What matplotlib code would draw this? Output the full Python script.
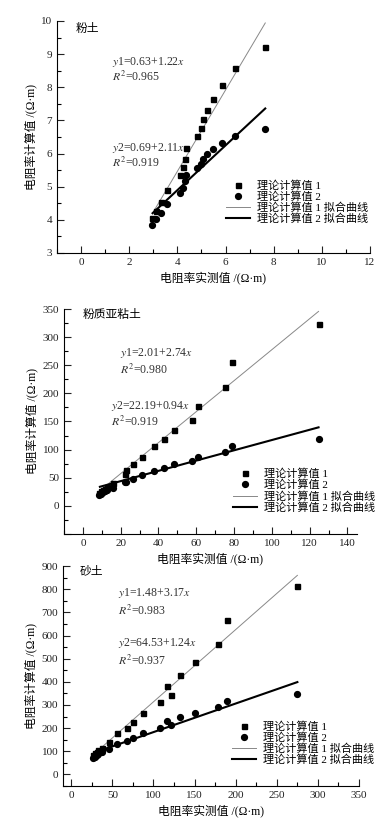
import matplotlib
matplotlib.use('Agg')
import matplotlib.pyplot as plt
from matplotlib.ticker import MultipleLocator, FuncFormatter
from matplotlib.lines import Line2D

plt.rcParams['font.family'] = ['Liberation Serif', 'Noto Sans CJK SC']
plt.rcParams['mathtext.fontset'] = 'stix'
plt.rcParams['font.size'] = 8

# ---- data ----
# 粉土
x_a = [2.93, 3.11, 3.32, 3.57, 4.11, 4.25, 4.33, 4.37, 4.81, 4.99, 5.06, 5.21, 5.49, 5.85, 6.39, 7.65]
sq_a = [4.05, 4.28, 4.55, 4.89, 5.36, 5.58, 5.84, 6.16, 6.54, 6.76, 7.03, 7.31, 7.66, 8.07, 8.58, 9.22]
ci_a = [3.83, 4.03, 4.22, 4.49, 4.82, 4.97, 5.16, 5.34, 5.57, 5.69, 5.84, 5.99, 6.14, 6.31, 6.52, 6.74]
fit_a_x = [2.97, 7.65]
fit1_a = [4.2, 9.94]
fit2_a = [4.2, 7.36]

# 粉质亚粘土
x_b = [8.5, 9.5, 10.5, 11.5, 12.5, 15.8, 22.5, 22.8, 26.3, 31.1, 37.8, 42.9, 48.3, 58.0, 61.1, 75.2, 79.0, 125.0]
sq_b = [22, 26, 29, 30, 34, 41, 56, 63, 74, 87, 107, 119, 134, 153, 178, 211, 256, 323]
ci_b = [19, 21, 24, 27, 28, 31, 42, 42, 48, 54, 62, 67, 74, 79, 87, 96, 107, 119]
fit_b_x = [9.0, 124.7]
fit1_b = [27, 345.8]
fit2_b = [33.9, 139.6]

# 砂土
x_c = [27, 29, 31, 33, 37, 46, 55.7, 67.8, 74.7, 86.9, 108, 116, 121.4, 132, 151, 178, 189, 275]
sq_c = [86, 92, 98, 104, 115, 140, 177, 199, 228, 264, 312, 380, 344, 428, 487, 563, 667, 814]
ci_c = [70, 76, 82, 88, 97, 112, 132, 144, 157, 177, 200, 229, 215, 248, 266, 291, 318, 349]
fit_c_x = [28, 275]
fit1_c = [89, 860]
fit2_c = [94, 399]

labels = ['理论计算值 1', '理论计算值 2', '理论计算值 1 拟合曲线', '理论计算值 2 拟合曲线']
xlabel = '电阻率实测值 /(Ω·m)'
ylabel = '电阻率计算值 /(Ω·m)'

fig = plt.figure(figsize=(3.89, 8.33), dpi=100)

panels = [
    dict(rect=[0.1465, 0.6963, 0.8046, 0.2785], x=x_a, sq=sq_a, ci=ci_a, fx=fit_a_x, f1=fit1_a, f2=fit2_a,
         xlim=(-1, 12), ylim=(3, 10), xmaj=2, xmin=1, ymaj=1, ymin=0.5, name='粉土', name_pos=(0.058, 0.966),
         eq=[r'$y$1=0.63+1.22$x$', r'$R^2$=0.965', r'$y$2=0.69+2.11$x$', r'$R^2$=0.919'],
         eq_pos=[(0.176, 0.823), (0.176, 0.759), (0.176, 0.453), (0.176, 0.388)], leg=(0.54, 0.315)),
    dict(rect=[0.1645, 0.359, 0.753, 0.270], x=x_b, sq=sq_b, ci=ci_b, fx=fit_b_x, f1=fit1_b, f2=fit2_b,
         xlim=(-10, 145), ylim=(-50, 350), xmaj=20, xmin=10, ymaj=50, ymin=25, name='粉质亚粘土', name_pos=(0.065, 0.975),
         eq=[r'$y$1=2.01+2.74$x$', r'$R^2$=0.980', r'$y$2=22.19+0.94$x$', r'$R^2$=0.919'],
         eq_pos=[(0.191, 0.804), (0.191, 0.729), (0.16, 0.569), (0.16, 0.498)], leg=(0.577, 0.29)),
    dict(rect=[0.162, 0.0564, 0.761, 0.264], x=x_c, sq=sq_c, ci=ci_c, fx=fit_c_x, f1=fit1_c, f2=fit2_c,
         xlim=(-10, 350), ylim=(-50, 900), xmaj=50, xmin=25, ymaj=100, ymin=50, name='砂土', name_pos=(0.057, 0.977),
         eq=[r'$y$1=1.48+3.17$x$', r'$R^2$=0.983', r'$y$2=64.53+1.24$x$', r'$R^2$=0.937'],
         eq_pos=[(0.186, 0.877), (0.186, 0.795), (0.186, 0.65), (0.186, 0.568)], leg=(0.571, 0.295)),
]

# no labels below zero, as in the original
no_neg = FuncFormatter(lambda v, pos: '' if v < 0 else ('%g' % v))

for p in panels:
    ax = fig.add_axes(p['rect'])
    ax.plot(p['fx'], p['f1'], color='#888888', lw=0.7)
    ax.plot(p['fx'], p['f2'], color='black', lw=1.5)
    ax.plot(p['x'], p['sq'], 's', color='black', ms=3.6, ls='none')
    ax.plot(p['x'], p['ci'], 'o', color='black', ms=4.2, ls='none')
    ax.set_xlim(*p['xlim'])
    ax.set_ylim(*p['ylim'])
    ax.xaxis.set_major_locator(MultipleLocator(p['xmaj']))
    ax.xaxis.set_minor_locator(MultipleLocator(p['xmin']))
    ax.yaxis.set_major_locator(MultipleLocator(p['ymaj']))
    ax.yaxis.set_minor_locator(MultipleLocator(p['ymin']))
    ax.xaxis.set_major_formatter(no_neg)
    ax.yaxis.set_major_formatter(no_neg)
    ax.tick_params(which='major', direction='in', length=5, width=0.8, labelsize=8, colors='#222222')
    ax.tick_params(which='minor', direction='in', length=3, width=0.8)
    ax.spines['top'].set_visible(False)
    ax.spines['right'].set_visible(False)
    ax.set_xlabel(xlabel, fontsize=8.5, labelpad=3)
    ax.set_ylabel(ylabel, fontsize=8.5, labelpad=3)
    ax.text(*p['name_pos'], p['name'], transform=ax.transAxes, fontsize=8.5, va='center', ha='left')
    for s, pos in zip(p['eq'], p['eq_pos']):
        ax.text(*pos, s, transform=ax.transAxes, fontsize=8.5, va='center', ha='left', color='#333333')
    handles = [Line2D([], [], marker='s', color='black', ls='none', ms=3.6),
               Line2D([], [], marker='o', color='black', ls='none', ms=4.2),
               Line2D([], [], color='#888888', lw=0.7),
               Line2D([], [], color='black', lw=1.5)]
    ax.legend(handles, labels, loc='upper left', bbox_to_anchor=p['leg'], frameon=False,
              fontsize=8, borderaxespad=0, borderpad=0, labelspacing=0.05,
              handlelength=2.2, handletextpad=0.6)

fig.savefig('out.png', dpi=100, facecolor='white')
